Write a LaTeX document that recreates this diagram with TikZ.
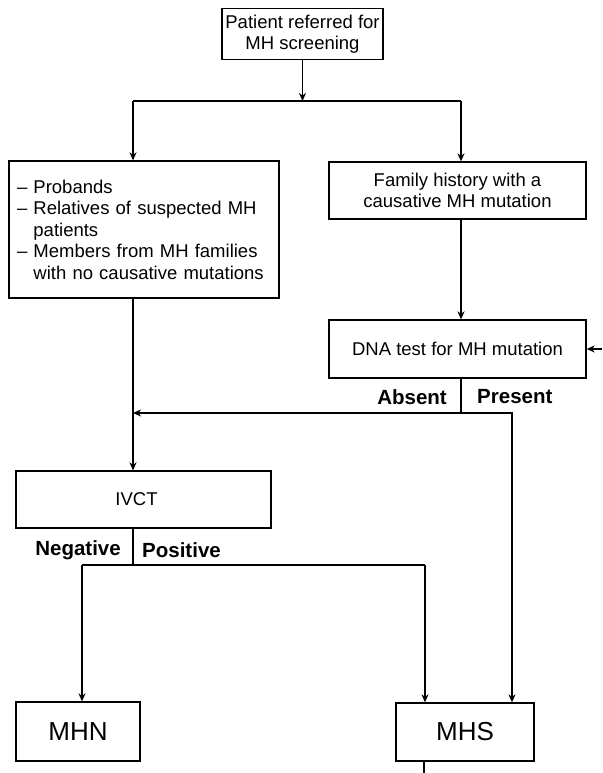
\documentclass[tikz,border=0pt]{standalone}
\usepackage{fontspec}
\setmainfont{Liberation Sans}
\usetikzlibrary{arrows.meta}
\begin{document}
\begin{tikzpicture}[x=1pt,y=-1pt,
  box/.style={draw,line width=1.3pt,rectangle,inner sep=0pt,align=center,
    font=\fontsize{18.5}{21.5}\selectfont},
  lab/.style={inner sep=0pt,font=\fontsize{20.5}{23}\selectfont\bfseries},
  conn/.style={line width=1.2pt},
  arr/.style={conn,-{Stealth[length=8pt,width=7pt,inset=2.5pt]}}]
\useasboundingbox (0,0) rectangle (602,773);
% boxes
\node[box,minimum width=161pt,minimum height=51pt] (top) at (302.5,34) {Patient referred for\\MH screening};
\node[box,minimum width=270pt,minimum height=137pt,text width=254pt,align=left] (left) at (144,229.5)
  {– Probands\\– Relatives of suspected MH\\\phantom{– }patients\\– Members from MH families\\\phantom{– }with no causative mutations};
\node[box,minimum width=257pt,minimum height=57pt] (fam) at (457.5,190.5) {Family history with a\\causative MH mutation};
\node[box,minimum width=257pt,minimum height=58pt] (dna) at (457.5,349) {DNA test for MH mutation};
\node[box,minimum width=255pt,minimum height=57pt] (ivct) at (143.5,499.5) {\hspace*{-14pt}IVCT};
\node[box,minimum width=124pt,minimum height=59pt,font=\fontsize{26}{30}\selectfont] (mhn) at (78,731.5) {MHN};
\node[box,minimum width=138pt,minimum height=58pt,font=\fontsize{26}{30}\selectfont] (mhs) at (465,732) {MHS};
% coordinates
\coordinate (j1) at (302.5,101);
\coordinate (jL) at (133,101);
\coordinate (jR) at (461,101);
\coordinate (d1) at (461,413);
\coordinate (dL) at (133,413);
\coordinate (dR) at (512,413);
\coordinate (i1) at (133,565);
\coordinate (iL) at (82,565);
\coordinate (iR) at (425,565);
\coordinate (inR) at (602,349);
\coordinate (outB) at (424,773);
% connectors
\draw[arr] (top.south) -- (j1);
\draw[conn] (jL) -- (jR);
\draw[arr] (jL) -- (jL |- left.north);
\draw[arr] (jR) -- (jR |- fam.north);
\draw[arr] (left.south -| jL) -- (ivct.north -| jL);
\draw[arr] (fam.south -| jR) -- (dna.north -| jR);
\draw[arr] (inR) -- (dna.east |- inR);
\draw[conn] (dna.south -| d1) -- (d1);
\draw[arr] (d1) -- (dL);
\draw[arr] (d1) -- (dR) -- (mhs.north -| dR);
\draw[conn] (ivct.south -| i1) -- (i1);
\draw[conn] (iL) -- (iR);
\draw[arr] (iL) -- (mhn.north -| iL);
\draw[arr] (iR) -- (mhs.north -| iR);
\draw[conn] (mhs.south -| outB) -- (outB);
% labels
\node[lab,anchor=east] (abs) at (447,397) {Absent};
\node[lab,anchor=west] (pre) at (477,397) {Present};
\node[lab,anchor=east] (neg) at (121,550) {Negative};
\node[lab,anchor=west] (pos) at (142,550) {Positive};
\end{tikzpicture}
\end{document}
